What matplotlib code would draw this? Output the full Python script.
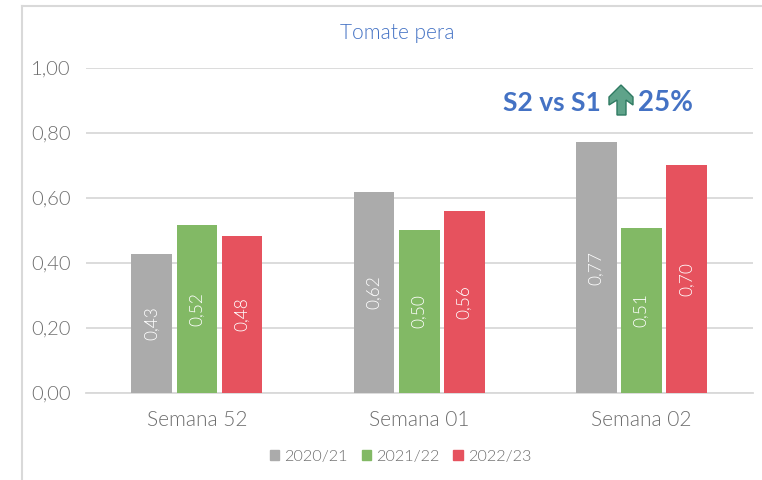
import numpy as np
import matplotlib
matplotlib.use('Agg')
import matplotlib.pyplot as plt
from matplotlib import font_manager as fm
from matplotlib.patches import Polygon
from matplotlib.lines import Line2D

semanas = ['Semana 52', 'Semana 01', 'Semana 02']
s2020 = [0.427, 0.618, 0.771]
s2021 = [0.516, 0.501, 0.507]
s2022 = [0.482, 0.559, 0.700]
campanas = ['2020/21', '2021/22', '2022/23']
colores = ['#ABABAB', '#82B965', '#E6525E']
yticks = [0.0, 0.2, 0.4, 0.6, 0.8, 1.0]

W, H = 762, 480
plt.rcParams['font.family'] = ['Lato', 'DejaVu Sans']

# Lato Light if it is there, the plain weight otherwise
fina = [f for f in fm.fontManager.ttflist
        if f.name == 'Lato' and f.fname.endswith('Lato-Light.ttf')]
if fina:
    letra = fm.FontProperties(fname=fina[0].fname)
else:
    letra = fm.FontProperties(family='Lato')

fig = plt.figure(figsize=(W / 100, H / 100), dpi=100)
# pixel positions
ax = fig.add_axes([85.7 / W, 1 - 393 / H, 667 / W, 325.5 / H])

x = np.arange(len(semanas))
ancho = 0.183
paso = 0.203
series = [s2020, s2021, s2022]
for i, vals in enumerate(series):
    pos = x + (i - 1) * paso
    ax.bar(pos, vals, ancho, color=colores[i], zorder=3)
    for p, v in zip(pos, vals):
        ax.text(p, v / 2, ('%.2f' % v).replace('.', ','), rotation=90,
                ha='center', va='center', color='white', fontproperties=letra,
                fontsize=12.5, zorder=4)

ax.set_xlim(-0.5, 2.5)
ax.set_ylim(0, 1)
ax.set_yticks(yticks)
ax.set_yticklabels([('%.2f' % t).replace('.', ',') for t in yticks],
                   fontproperties=letra, fontsize=14.5, color='#6E6E6E')
ax.set_xticks(x)
ax.set_xticklabels(semanas, fontproperties=letra, fontsize=15, color='#6E6E6E')
ax.tick_params(axis='y', length=0, pad=11)
ax.tick_params(axis='x', length=0, pad=12)
ax.grid(axis='y', color='#D9D9D9', lw=1.3, zorder=0)
ax.set_axisbelow(True)
for s in ['top', 'right', 'left']:
    ax.spines[s].set_visible(False)
ax.spines['bottom'].set_color('#D9D9D9')
ax.spines['bottom'].set_linewidth(1.3)

# outer chart frame, left and top only are visible
fig.add_artist(Line2D([22 / W, 22 / W], [0, 1 - 6 / H], color='#D9D9D9', lw=1.5))
fig.add_artist(Line2D([22 / W, 1], [1 - 6 / H, 1 - 6 / H], color='#D9D9D9', lw=1.5))

fig.text(397 / W, 1 - 33 / H, 'Tomate pera', ha='center', va='center',
         color='#4472C4', fontproperties=letra, fontsize=15)

fig.text(503 / W, 1 - 103 / H, 'S2 vs S1', ha='left', va='center',
         color='#4472C4', fontsize=19, fontweight='bold')
fig.text(638 / W, 1 - 103 / H, '25%', ha='left', va='center',
         color='#4472C4', fontsize=20, fontweight='bold')

flecha = [(621, 85), (609, 97), (609, 105), (617, 100), (617, 115),
          (626, 115), (626, 100), (633, 105), (633, 97)]
fig.add_artist(Polygon([(a / W, 1 - b / H) for a, b in flecha], closed=True,
                       transform=fig.transFigure, facecolor='#5FA38A',
                       edgecolor='#2F7A62', lw=1))

handles = [plt.Rectangle((0, 0), 1, 1, color=c) for c in colores]
ley = letra.copy()
ley.set_size(11.7)
fig.legend(handles, campanas, loc='center', bbox_to_anchor=(400.5 / W, 1 - 456.5 / H),
           ncol=3, frameon=False, prop=ley, labelcolor='#6E6E6E',
           handlelength=0.6, handleheight=0.6, handletextpad=0.3, columnspacing=0.85)

fig.savefig('out.png', dpi=100)
